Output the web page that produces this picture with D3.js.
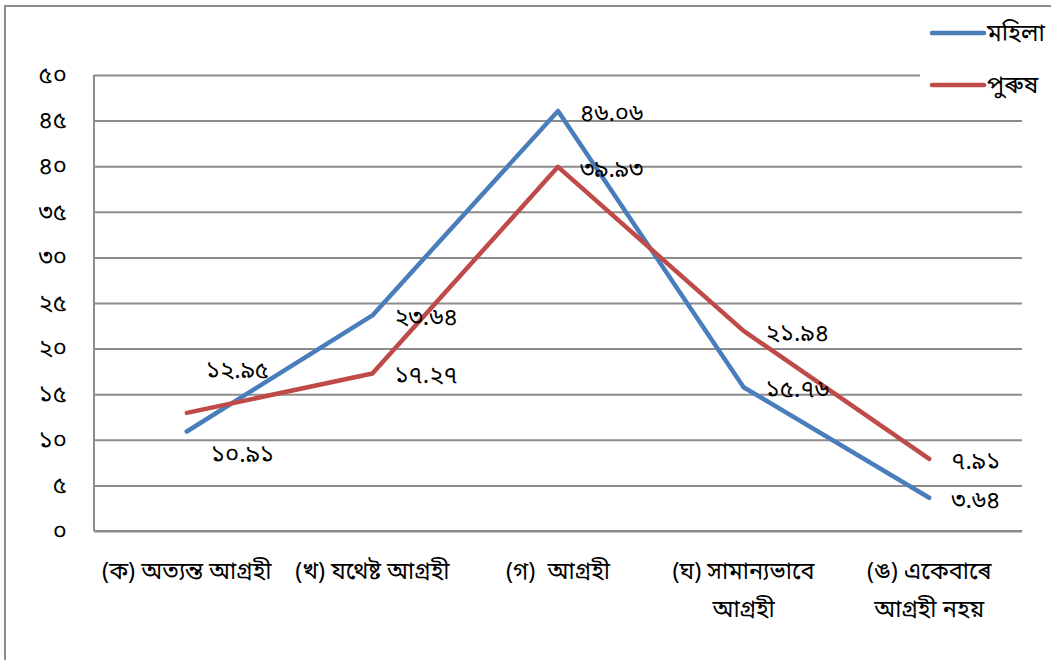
<!DOCTYPE html>
<html>
<head>
<meta charset="utf-8">
<script src="https://cdn.jsdelivr.net/npm/d3@7"></script>
<style>
  html, body { margin: 0; padding: 0; background: #fff; }
  svg text { font-family: "Noto Sans Bengali", "Lohit Bengali", "Lohit Assamese", "Vrinda", "Noto Sans", sans-serif; fill: #000; white-space: pre; }
</style>
</head>
<body>
<svg id="chart" width="1051" height="660"></svg>
<script>
// ---- data ----
const categories = ["(ক) অত্যন্ত আগ্ৰহী", "(খ) যথেষ্ট আগ্ৰহী", "(গ)  আগ্ৰহী", "(ঘ) সামান্যভাবে আগ্ৰহী", "(ঙ) একেবাৰে আগ্ৰহী নহয়"];
const categoryLines = [
  ["(ক) অত্যন্ত আগ্ৰহী"],
  ["(খ) যথেষ্ট আগ্ৰহী"],
  ["(গ)  আগ্ৰহী"],
  ["(ঘ) সামান্যভাবে", "আগ্ৰহী"],
  ["(ঙ) একেবাৰে", "আগ্ৰহী নহয়"]
];
const seriesNames = ["মহিলা", "পুৰুষ"];
const femaleValues = [10.91, 23.64, 46.06, 15.76, 3.64];
const maleValues = [12.95, 17.27, 39.93, 21.94, 7.91];
const femaleLabels = ["১০.৯১", "২৩.৬৪", "৪৬.০৬", "১৫.৭৬", "৩.৬৪"];
const maleLabels = ["১২.৯৫", "১৭.২৭", "৩৯.৯৩", "২১.৯৪", "৭.৯১"];
const femaleLabelPos = ["below", "right", "right", "right", "right"];
const maleLabelPos = ["above", "right", "right", "right", "right"];
const yTicks = [0, 5, 10, 15, 20, 25, 30, 35, 40, 45, 50];
const yTickLabels = ["০", "৫", "১০", "১৫", "২০", "২৫", "৩০", "৩৫", "৪০", "৪৫", "৫০"];

// ---- layout ----
const colors = ["#4A7EBB", "#BE4B48"];
const plot = { left: 94, right: 1022, top: 75, bottom: 531 };
const fs = 24;

const svg = d3.select("#chart");

// outer border (chart area)
svg.append("path")
  .attr("d", "M5,660 L5,6 L1051,6")
  .attr("fill", "none").attr("stroke", "#8c8c8c").attr("stroke-width", 2);

const x = d3.scaleBand().domain(categories).range([plot.left, plot.right]).padding(0);
const y = d3.scaleLinear().domain([0, 50]).range([plot.bottom, plot.top]);
const cx = c => x(c) + x.bandwidth() / 2;

// gridlines
const yAxis = d3.axisLeft(y).tickValues(yTicks).tickSize(-(plot.right - plot.left))
  .tickFormat((d, i) => yTickLabels[i]).tickPadding(27);
const gy = svg.append("g").attr("transform", `translate(${plot.left},0)`).call(yAxis);
gy.select(".domain").remove();
gy.selectAll(".tick line").attr("stroke", "#8c8c8c").attr("stroke-width", 2);
gy.selectAll(".tick text").attr("font-size", fs).attr("dy", "0.3em");

// axis lines
svg.append("line").attr("x1", plot.left).attr("x2", plot.left).attr("y1", plot.top).attr("y2", plot.bottom)
  .attr("stroke", "#8c8c8c").attr("stroke-width", 2);
svg.append("line").attr("x1", plot.left).attr("x2", plot.right).attr("y1", plot.bottom).attr("y2", plot.bottom)
  .attr("stroke", "#8c8c8c").attr("stroke-width", 2);

// x labels
const xl = svg.append("g");
categories.forEach((c, i) => {
  const t = xl.append("text").attr("x", cx(c)).attr("y", 579).attr("text-anchor", "middle").attr("font-size", 23.5);
  categoryLines[i].forEach((ln, j) => {
    t.append("tspan").attr("x", cx(c)).attr("y", 579 + j * 38).text(ln);
  });
});

// lines
const line = d3.line().x((d, i) => cx(categories[i])).y(d => y(d));
const seriesVals = [femaleValues, maleValues];
const seriesLabels = [femaleLabels, maleLabels];
const seriesPos = [femaleLabelPos, maleLabelPos];

seriesVals.forEach((vals, s) => {
  svg.append("path").datum(vals).attr("d", line)
    .attr("fill", "none").attr("stroke", colors[s]).attr("stroke-width", 4.5)
    .attr("stroke-linejoin", "round").attr("stroke-linecap", "round");
});

// data labels
seriesVals.forEach((vals, s) => {
  vals.forEach((v, i) => {
    const px = cx(categories[i]), py = y(v);
    const pos = seriesPos[s][i];
    let tx = px + 22, ty = py + 10;
    if (pos === "above") { tx = px + 19; ty = py - 35; }
    if (pos === "below") { tx = px + 24; ty = py + 30; }
    svg.append("text").attr("x", tx).attr("y", ty).attr("font-size", fs).text(seriesLabels[s][i]);
  });
});

// legend
const lg = svg.append("g");
lg.append("rect").attr("x", 920).attr("y", 8).attr("width", 131).attr("height", 100).attr("fill", "#fff");
seriesNames.forEach((n, s) => {
  const ly = 33 + s * 52;
  lg.append("line").attr("x1", 932).attr("x2", 984).attr("y1", ly).attr("y2", ly)
    .attr("stroke", colors[s]).attr("stroke-width", 4.5).attr("stroke-linecap", "round");
  lg.append("text").attr("x", 987).attr("y", ly + 8).attr("font-size", fs).text(n);
});
</script>
</body>
</html>
